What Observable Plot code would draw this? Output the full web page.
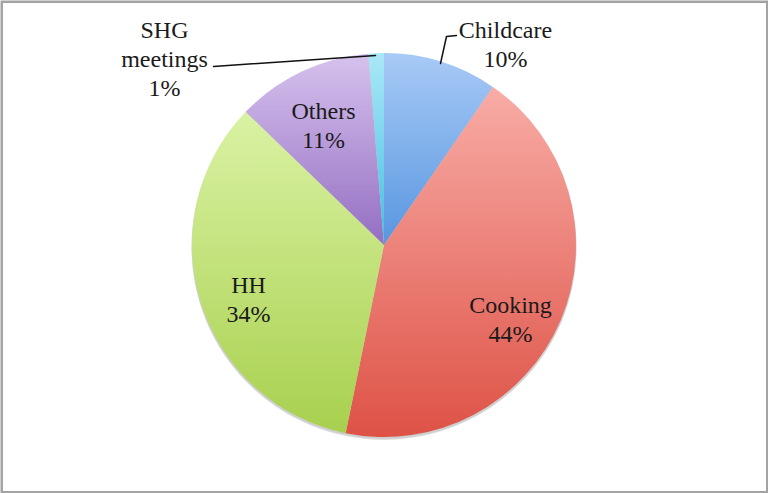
<!DOCTYPE html>
<html>
<head>
<meta charset="utf-8">
<script src="https://cdn.jsdelivr.net/npm/d3@7"></script>
<script src="https://cdn.jsdelivr.net/npm/@observablehq/plot@0.6"></script>
<style>
  html, body { margin: 0; padding: 0; background: #fff; }
</style>
</head>
<body>
<div id="chart"></div>
<script>
// ---- data ----
const categories = ["Childcare", "Cooking", "HH", "Others", "SHG meetings"];
const shares = [9.6, 43.6, 34.0, 11.5, 1.3];
const percentLabels = ["10%", "44%", "34%", "11%", "1%"];

// ---- styles (gradient top / bottom per slice) ----
const colorTop = ["#a8caf6", "#f8aca6", "#daf2a4", "#d6c2ee", "#aae8f8"];
const colorBottom = ["#5896e0", "#de5246", "#a8d04e", "#946ec2", "#46bee0"];
const serifFont = "'Liberation Serif', 'DejaVu Serif', 'Noto Serif CJK SC', serif";

// ---- layout ----
const W = 768, H = 493;
const center = [384, 245];
const radius = 192;
// label text lines: [x center, baseline of first line]
const labelNames = [["Childcare"], ["Cooking"], ["HH"], ["Others"], ["SHG", "meetings"]];
const labelAnchor = [[505, 37], [510, 312], [248, 292], [323, 118], [164, 37]];
const lineStep = 29;
const leaderChildcare = [[440, 63], [446, 36], [456, 35]];
const leaderSHG = [[213, 66], [375, 55]];

const labelRows = [];
labelNames.forEach((names, i) => {
  const lines = [...names, percentLabels[i]];
  lines.forEach((t, j) => labelRows.push({text: t, x: labelAnchor[i][0], y: labelAnchor[i][1] + j * lineStep}));
});

const pieData = categories.map((c, i) => ({category: c, value: shares[i], i}));
const arcs = d3.pie().sort(null).value(d => d.value)(pieData);

function pieMark(index, scales, values, dimensions, context) {
  const g = d3.create("svg:g");
  const defs = g.append("defs");
  arcs.forEach((a, i) => {
    const lg = defs.append("linearGradient").attr("id", "grad" + i)
      .attr("x1", 0).attr("y1", 0).attr("x2", 0).attr("y2", 1);
    lg.append("stop").attr("offset", "0%").attr("stop-color", colorTop[i]);
    lg.append("stop").attr("offset", "100%").attr("stop-color", colorBottom[i]);
  });
  const cx = scales.x(center[0]), cy = scales.y(center[1]);
  const arc = d3.arc().innerRadius(0).outerRadius(radius);
  const pg = g.append("g").attr("transform", `translate(${cx},${cy})`);
  // soft shadow under the pie
  pg.append("circle").attr("cx", 0).attr("cy", 2.5).attr("r", radius + 0.5).attr("fill", "#000").attr("fill-opacity", 0.12);
  pg.append("circle").attr("cx", 0).attr("cy", 1.5).attr("r", radius + 0.5).attr("fill", "#000").attr("fill-opacity", 0.08);
  pg.selectAll("path").data(arcs).join("path")
    .attr("d", arc)
    .attr("fill", (d, i) => `url(#grad${i})`);
  return g.node();
}

const chart = Plot.plot({
  width: W,
  height: H,
  margin: 0,
  x: {domain: [0, W], range: [0, W], axis: null},
  y: {domain: [0, H], range: [0, H], axis: null},
  style: {background: "#fff", fontFamily: serifFont},
  marks: [
    pieMark,
    Plot.line(leaderChildcare, {x: d => d[0], y: d => d[1], stroke: "#111", strokeWidth: 1.5}),
    Plot.line(leaderSHG, {x: d => d[0], y: d => d[1], stroke: "#111", strokeWidth: 1.5}),
    Plot.text(labelRows, {
      x: "x", y: "y", text: "text",
      textAnchor: "middle", lineAnchor: "bottom",
      fontFamily: serifFont, fontSize: 24, fill: "#1a1a1a"
    }),
    Plot.frame({stroke: "#a3a3a3", strokeWidth: 2.5, inset: 1.25})
  ]
});
document.getElementById("chart").appendChild(chart);
</script>
</body>
</html>
